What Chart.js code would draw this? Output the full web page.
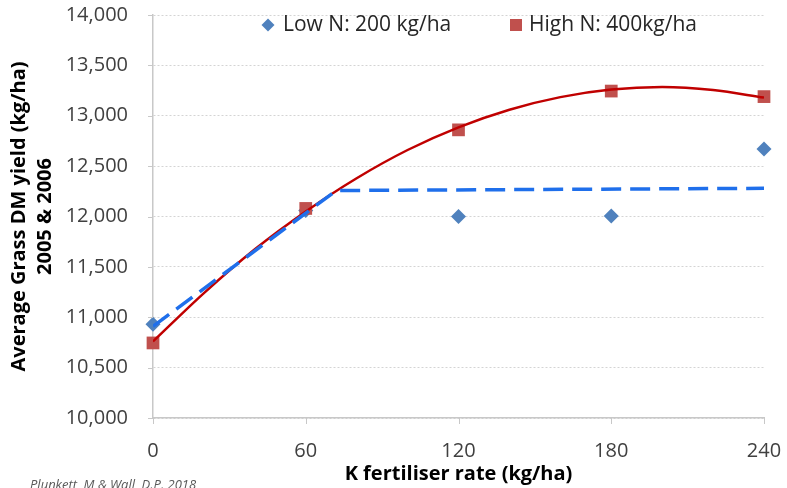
<!DOCTYPE html>
<html>
<head>
<meta charset="utf-8">
<script src="https://cdn.jsdelivr.net/npm/chart.js@4"></script>
<style>
  html, body { margin: 0; padding: 0; background: #ffffff; }
  #wrap { position: relative; width: 787px; height: 488px; }
</style>
</head>
<body>
<div id="wrap"><canvas id="c" width="787" height="488"></canvas></div>
<script>
// ---- data ----
const kRates = [0, 60, 120, 180, 240];
const lowN = [10930, 12060, 12000, 12005, 12670];
const highN = [10745, 12080, 12860, 13245, 13190];

// fitted curve for High N
const highTrendX = [0, 20, 40, 60, 80, 100, 120, 140, 160, 180, 200, 220, 240];
const highTrendY = [10760, 11240, 11675, 12050, 12380, 12660, 12885, 13060, 13185, 13260, 13285, 13255, 13180];

// linear-plateau line for Low N
const lowTrendX = [0, 72, 240];
const lowTrendY = [10910, 12258, 12280];

const xTicks = [0, 60, 120, 180, 240];
const yTickMin = 10000, yTickMax = 14000, yTickStep = 500;

const seriesNames = ['Low N: 200 kg/ha', 'High N: 400kg/ha'];
const xTitle = 'K fertiliser rate (kg/ha)';
const yTitle = ['Average Grass DM yield (kg/ha)', '2005 & 2006'];
const sourceNote = 'Plunkett, M & Wall, D.P. 2018';

const pts = (xs, ys) => xs.map((x, i) => ({x: x, y: ys[i]}));

const FONT = "'Open Sans', 'DejaVu Sans', sans-serif";
const BLUE_MK = '#4F81BD', RED_MK = '#C0504D';
const BLUE_LN = '#1F6FEB', RED_LN = '#C00000';
const AXIS_C = '#c8c8c8';

const overlay = {
  id: 'overlay',
  afterDraw(chart) {
    const ctx = chart.ctx;
    const xs = chart.scales.x, ys = chart.scales.y;
    ctx.save();
    // small axis tick marks
    ctx.strokeStyle = AXIS_C;
    ctx.lineWidth = 1;
    ctx.beginPath();
    ys.ticks.forEach(t => {
      const py = Math.round(ys.getPixelForValue(t.value)) + 0.5;
      ctx.moveTo(xs.left - 5, py); ctx.lineTo(xs.left, py);
    });
    xs.ticks.forEach(t => {
      const px = Math.round(xs.getPixelForValue(t.value)) + 0.5;
      ctx.moveTo(px, ys.bottom); ctx.lineTo(px, ys.bottom + 6);
    });
    ctx.stroke();
    // legend
    ctx.font = "21px " + FONT;
    ctx.textBaseline = 'middle';
    ctx.textAlign = 'left';
    const ly = 25;
    ctx.fillStyle = BLUE_MK;
    ctx.beginPath();
    ctx.moveTo(268 - 6.5, ly); ctx.lineTo(268, ly - 6.5); ctx.lineTo(268 + 6.5, ly); ctx.lineTo(268, ly + 6.5);
    ctx.closePath(); ctx.fill();
    ctx.fillStyle = '#262626';
    ctx.fillText(seriesNames[0], 283, ly);
    ctx.fillStyle = RED_MK;
    ctx.fillRect(516 - 6, ly - 6, 12, 12);
    ctx.fillStyle = '#262626';
    ctx.fillText(seriesNames[1], 529, ly);
    // source note
    ctx.font = "italic 13px " + FONT;
    ctx.fillStyle = '#595959';
    ctx.fillText(sourceNote, 30, 485);
    ctx.restore();
  }
};

new Chart(document.getElementById('c'), {
  type: 'scatter',
  data: {
    datasets: [
      {
        label: 'Low N trend',
        data: pts(lowTrendX, lowTrendY),
        showLine: true,
        borderColor: BLUE_LN,
        borderWidth: 3.5,
        borderDash: [20, 9],
        pointRadius: 0,
        fill: false,
        order: 0
      },
      {
        label: 'High N trend',
        data: pts(highTrendX, highTrendY),
        showLine: true,
        borderColor: RED_LN,
        borderWidth: 2.5,
        cubicInterpolationMode: 'monotone',
        pointRadius: 0,
        fill: false,
        order: 1
      },
      {
        label: seriesNames[1],
        data: pts(kRates, highN),
        pointStyle: 'rect',
        pointRadius: 9,
        backgroundColor: RED_MK,
        borderColor: RED_MK,
        borderWidth: 0,
        clip: false,
        order: 2
      },
      {
        label: seriesNames[0],
        data: pts(kRates, lowN),
        pointStyle: 'rectRot',
        pointRadius: 7.5,
        backgroundColor: BLUE_MK,
        borderColor: BLUE_MK,
        borderWidth: 0,
        clip: false,
        order: 3
      }
    ]
  },
  options: {
    responsive: false,
    animation: false,
    events: [],
    layout: { padding: { top: 15, right: 23, left: 0, bottom: 0 } },
    plugins: { legend: { display: false }, tooltip: { enabled: false } },
    scales: {
      x: {
        type: 'linear',
        min: 0, max: 240,
        afterBuildTicks(scale) { scale.ticks = xTicks.map(v => ({value: v})); },
        afterFit(scale) { scale.height = 70; },
        grid: { drawOnChartArea: false, drawTicks: true, tickLength: 17, tickColor: 'rgba(0,0,0,0)' },
        border: { display: true, color: AXIS_C, width: 1.5 },
        ticks: { color: '#404040', font: { family: FONT, size: 20 }, padding: 4, maxRotation: 0 },
        title: {
          display: true, text: xTitle, color: '#000000',
          font: { family: FONT, size: 20, weight: 'bold', lineHeight: '24px' },
          padding: { top: 0, bottom: 2 }
        }
      },
      y: {
        type: 'linear',
        min: yTickMin, max: yTickMax,
        ticks: {
          stepSize: yTickStep,
          color: '#404040',
          font: { family: FONT, size: 20 },
          padding: 0,
          callback: v => v.toLocaleString('en-US')
        },
        afterFit(scale) { scale.width = 153; },
        grid: { color: '#d4d4d4', lineWidth: 1, drawTicks: true, tickLength: 25, tickColor: 'rgba(0,0,0,0)' },
        border: { display: true, color: AXIS_C, width: 1.5, dash: [2, 2] },
        title: {
          display: true, text: yTitle, color: '#000000',
          font: { family: FONT, size: 20, weight: 'bold', lineHeight: '26px' },
          padding: { top: 6, bottom: 0 }
        }
      }
    }
  },
  plugins: [overlay]
});
</script>
</body>
</html>
